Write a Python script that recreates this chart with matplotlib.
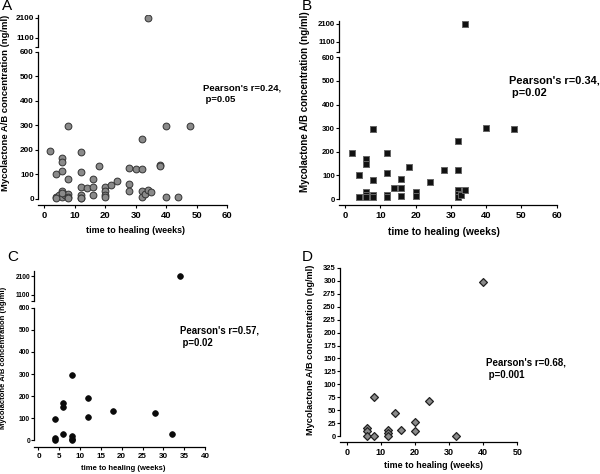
import numpy as np
import matplotlib
matplotlib.use('Agg')
import matplotlib.pyplot as plt

plt.rcParams['font.family'] = ['Liberation Sans', 'DejaVu Sans']

# panel A - all patients
a_weeks = [2, 8, 6, 6, 12, 4, 6, 12, 8, 18, 16, 12, 14, 16, 20, 20, 20, 20, 22, 24,
           28, 30, 32, 28, 28, 32, 38, 38, 40, 48, 32, 32, 33, 34, 35, 40, 44,
           4, 5, 6, 6, 7, 8, 8, 12, 12, 16, 4, 6, 8, 12, 34]
a_conc = [196, 296, 166, 150, 193, 102, 113, 109, 80, 135, 83, 50, 46, 50, 49, 31, 15, 7, 57, 73,
          125, 121, 122, 60, 31, 244, 139, 136, 299, 297, 33, 8, 18, 38, 29, 6, 6,
          7, 14, 31, 7, 17, 20, 7, 17, 5, 15, 2, 22, 2, 2, 2100]

# panel B
b_weeks = [2, 8, 6, 6, 12, 4, 8, 12, 18, 16, 14, 16, 16, 24, 28, 32, 32, 40, 48,
           20, 20, 32, 32, 32, 33, 34, 4, 6, 6, 6, 8, 8, 12, 12, 34]
b_conc = [197, 297, 169, 149, 193, 103, 79, 110, 135, 86, 49, 49, 15, 73, 125, 123, 246, 300, 296,
          30, 15, 37, 20, 8, 18, 39, 8, 28, 17, 8, 17, 8, 17, 8, 2100]

# panel C
c_weeks = [8, 4, 6, 6, 12, 12, 18, 28, 32, 6, 8, 8, 8, 4, 4, 34]
c_conc = [297, 98, 169, 149, 193, 106, 131, 125, 29, 29, 18, 8, 0, 9, 2, 2100]

# panel D
d_weeks = [40, 8, 24, 14, 20, 20, 16, 12, 12, 12, 6, 6, 6, 8, 32]
d_conc = [297, 76, 69, 44, 27, 10, 12, 13, 6, 1, 16, 10, 1, 1, 1]

W, H = 600, 474
fig = plt.figure(figsize=(W / 100, H / 100), dpi=100)


def px(l, t, r, b):
    return [l / W, 1 - b / H, (r - l) / W, (b - t) / H]


def style(ax, xfs, yfs):
    for s in ['top', 'right']:
        ax.spines[s].set_visible(False)
    for s in ['left', 'bottom']:
        ax.spines[s].set_linewidth(0.9)
    ax.tick_params(length=2, width=0.8)
    ax.tick_params(axis='x', labelsize=xfs, pad=2.5)
    ax.tick_params(axis='y', labelsize=yfs, pad=1)
    for lab in ax.get_xticklabels() + ax.get_yticklabels():
        lab.set_fontweight('bold')


def broken_panel(box_low, box_top, xlim, xticks, ylim_low, ylim_top, x, y, mk, xfs, yfs):
    lo = fig.add_axes(px(*box_low))
    hi = fig.add_axes(px(*box_top))
    for ax in (lo, hi):
        ax.scatter(x, y, **mk)
        ax.set_xlim(*xlim)
    lo.set_ylim(*ylim_low)
    lo.set_yticks(range(0, 601, 100))
    lo.set_xticks(xticks)
    lo.spines['left'].set_bounds(0, 600)
    hi.set_ylim(*ylim_top)
    hi.set_yticks([1100, 2100])
    hi.set_yticks([ylim_top[0] + 1], minor=True)
    hi.tick_params(axis='y', which='minor', length=2, width=0.8)
    hi.set_xticks([])
    hi.spines['bottom'].set_visible(False)
    style(lo, xfs, yfs)
    style(hi, xfs, yfs)
    return lo, hi


grey_circle = dict(s=24, c='#8a8a8a', edgecolors='#333333', linewidths=0.7, marker='o', zorder=3)
black_square = dict(s=17, c='#111111', edgecolors='#666666', linewidths=0.7, marker='s', zorder=3)
black_circle = dict(s=17, c='#0a0a0a', edgecolors='#0a0a0a', linewidths=0.5, marker='o', zorder=3)
grey_diamond = dict(s=16, c='#8a8a8a', edgecolors='#222222', linewidths=0.9, marker='D', zorder=3)

ylab = 'Mycolactone A/B concentration (ng/ml)'
xlab = 'time to healing (weeks)'

# A
broken_panel((38, 52, 227, 205), (38, 15, 227, 47), (-2, 60), range(0, 61, 10),
             (-25, 600), (650, 2250), a_weeks, a_conc, grey_circle, 6.8, 5.9)
fig.text(203 / W, 1 - 94 / H, "Pearson's r=0.24,\n p=0.05", fontsize=6.8, fontweight='bold',
         va='center', linespacing=1.3)
fig.text(6 / W, 1 - 103 / H, ylab, rotation=90, fontsize=6.8, fontweight='bold', ha='center', va='center')
fig.text(136 / W, 1 - 231 / H, xlab, fontsize=6.4, fontweight='bold', ha='center', va='center')
fig.text(2 / W, 1 - 6 / H, 'A', fontsize=11, ha='left', va='center')

# B
broken_panel((339, 57.3, 556.7, 205), (339, 20.7, 556.7, 51.7), (-1.7, 60), range(0, 61, 10),
             (-25, 600), (561, 2283), b_weeks, b_conc, black_square, 6.8, 5.6)
fig.text(509 / W, 1 - 87 / H, "Pearson's r=0.34,\n p=0.02", fontsize=7.9, fontweight='bold',
         va='center', linespacing=1.3)
fig.text(305 / W, 1 - 102 / H, ylab, rotation=90, fontsize=7, fontweight='bold', ha='center', va='center')
fig.text(444 / W, 1 - 232 / H, xlab, fontsize=7.3, fontweight='bold', ha='center', va='center')
fig.text(302 / W, 1 - 6 / H, 'B', fontsize=11, ha='left', va='center')

# C
broken_panel((34.3, 307.7, 205, 447), (34.3, 271.3, 205, 301.3), (-1, 40), range(0, 41, 5),
             (-30, 600), (746, 2352), c_weeks, c_conc, black_circle, 5.8, 4.8)
fig.text(180 / W, 1 - 337 / H, "Pearson's r=0.57,\n p=0.02", fontsize=6.9, fontweight='bold',
         va='center', linespacing=1.3)
fig.text(4 / W, 1 - 358 / H, ylab, rotation=90, fontsize=5.5, fontweight='bold', ha='center', va='center')
fig.text(123 / W, 1 - 468 / H, xlab, fontsize=5.5, fontweight='bold', ha='center', va='center')
fig.text(7 / W, 1 - 257 / H, 'C', fontsize=11, ha='left', va='center')

# D
ax = fig.add_axes(px(340, 267.7, 517.3, 442))
ax.scatter(d_weeks, d_conc, **grey_diamond)
ax.set_xlim(-2, 50)
ax.set_ylim(-11, 325)
ax.set_xticks(range(0, 51, 10))
ax.set_yticks(range(0, 326, 25))
ax.spines['left'].set_bounds(0, 325)
style(ax, 6.5, 5.4)
fig.text(486 / W, 1 - 369 / H, "Pearson's r=0.68,\n p=0.001", fontsize=7, fontweight='bold',
         va='center', linespacing=1.3)
fig.text(310 / W, 1 - 350 / H, ylab, rotation=90, fontsize=6.6, fontweight='bold', ha='center', va='center')
fig.text(433 / W, 1 - 466 / H, xlab, fontsize=6.4, fontweight='bold', ha='center', va='center')
fig.text(302 / W, 1 - 257 / H, 'D', fontsize=11, ha='left', va='center')

fig.savefig('out.png', dpi=100)
